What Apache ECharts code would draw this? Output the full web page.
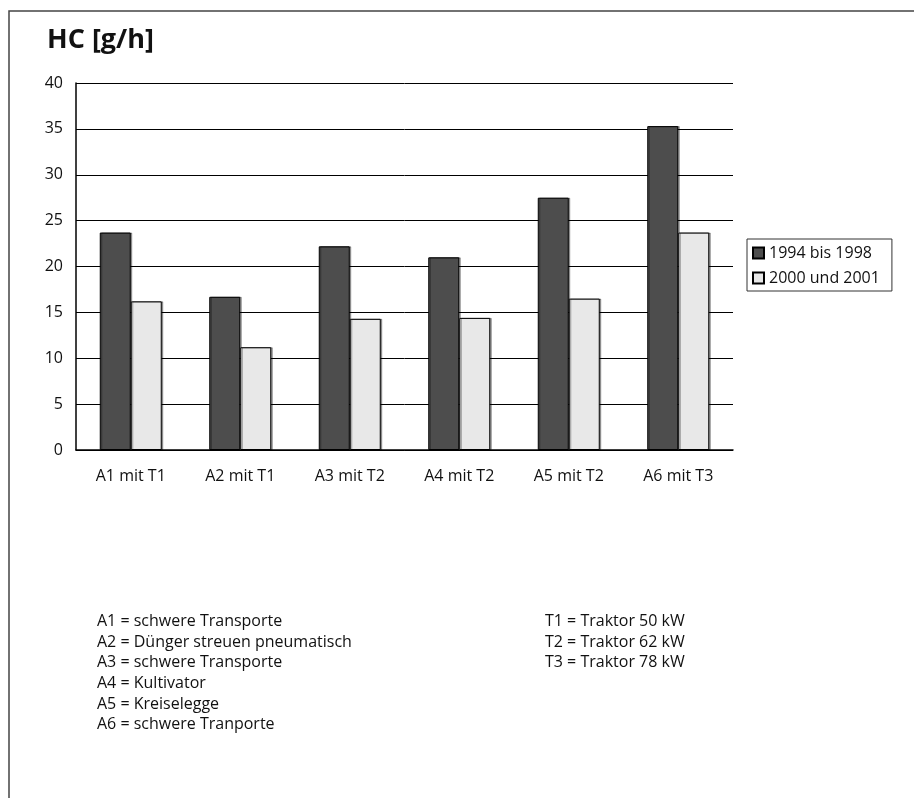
<!DOCTYPE html>
<html>
<head>
<meta charset="utf-8">
<script src="https://cdn.jsdelivr.net/npm/echarts@6/dist/echarts.min.js"></script>
<style>
html,body{margin:0;padding:0;background:#fff;}
#chart{width:914px;height:798px;}
</style>
</head>
<body>
<div id="chart"></div>
<script>
const categories = ['A1 mit T1','A2 mit T1','A3 mit T2','A4 mit T2','A5 mit T2','A6 mit T3'];
const series1994 = [23.7, 16.7, 22.2, 21.0, 27.5, 35.3];
const series2000 = [16.2, 11.2, 14.3, 14.4, 16.5, 23.7];
const seriesNames = ['1994 bis 1998', '2000 und 2001'];
const yTicks = [0, 5, 10, 15, 20, 25, 30, 35, 40];
const notesA = ['A1 = schwere Transporte','A2 = Dünger streuen pneumatisch','A3 = schwere Transporte','A4 = Kultivator','A5 = Kreiselegge','A6 = schwere Tranporte'];
const notesT = ['T1 = Traktor 50 kW','T2 = Traktor 62 kW','T3 = Traktor 78 kW'];
const titleText = 'HC [g/h]';

const FONT = '"Open Sans", "Noto Sans", sans-serif';
const chart = echarts.init(document.getElementById('chart'), null, {renderer:'canvas'});
const notesStyle = {fill:'#111', font:'16px ' + FONT, lineHeight:20.7};
chart.setOption({
  animation:false,
  backgroundColor:'#fff',
  textStyle:{fontFamily:FONT},
  title:{text:titleText, left:47, top:25, padding:0, textStyle:{fontSize:27, lineHeight:30, fontWeight:'bold', color:'#111', fontFamily:FONT}},
  legend:{
    orient:'vertical', left:747, top:239, data:seriesNames,
    itemWidth:11, itemHeight:11, itemGap:9,
    padding:[6,12,5,5],
    borderColor:'#333', borderWidth:1, borderRadius:0,
    icon:'rect',
    textStyle:{fontSize:16, lineHeight:16, color:'#111', padding:[0,0,0,0]}
  },
  grid:{left:76, top:83, right:181, bottom:348, containLabel:false},
  xAxis:{
    type:'category', data:categories,
    axisLine:{lineStyle:{color:'#000', width:1.5}},
    axisTick:{show:false},
    axisLabel:{fontSize:16, color:'#111', margin:18}
  },
  yAxis:{
    type:'value', min:0, max:40, interval:5,
    axisLine:{show:true, lineStyle:{color:'#000', width:1.5}},
    axisTick:{show:false},
    axisLabel:{fontSize:16, color:'#111', margin:13, formatter:v=>yTicks.includes(v)?String(v):''},
    splitLine:{lineStyle:{color:'#000', width:1}}
  },
  series:[
    {name:seriesNames[0], type:'bar', data:series1994, barWidth:31, barGap:'0%',
     itemStyle:{color:'#4d4d4d', borderColor:'#000', borderWidth:1, shadowColor:'rgba(0,0,0,0.35)', shadowOffsetX:1.5, shadowOffsetY:0, shadowBlur:0}},
    {name:seriesNames[1], type:'bar', data:series2000, barWidth:31, barGap:'0%',
     itemStyle:{color:'#e8e8e8', borderColor:'#000', borderWidth:1, shadowColor:'rgba(0,0,0,0.35)', shadowOffsetX:1.5, shadowOffsetY:0, shadowBlur:0}}
  ],
  graphic:[
    {type:'rect', shape:{x:9, y:11, width:1000, height:1000}, style:{fill:'none', stroke:'#444', lineWidth:1.5}, silent:true},
    {type:'text', x:97, y:611, style:Object.assign({text:notesA.join('\n')}, notesStyle)},
    {type:'text', x:545, y:611, style:Object.assign({text:notesT.join('\n')}, notesStyle)}
  ]
});
</script>
</body>
</html>
